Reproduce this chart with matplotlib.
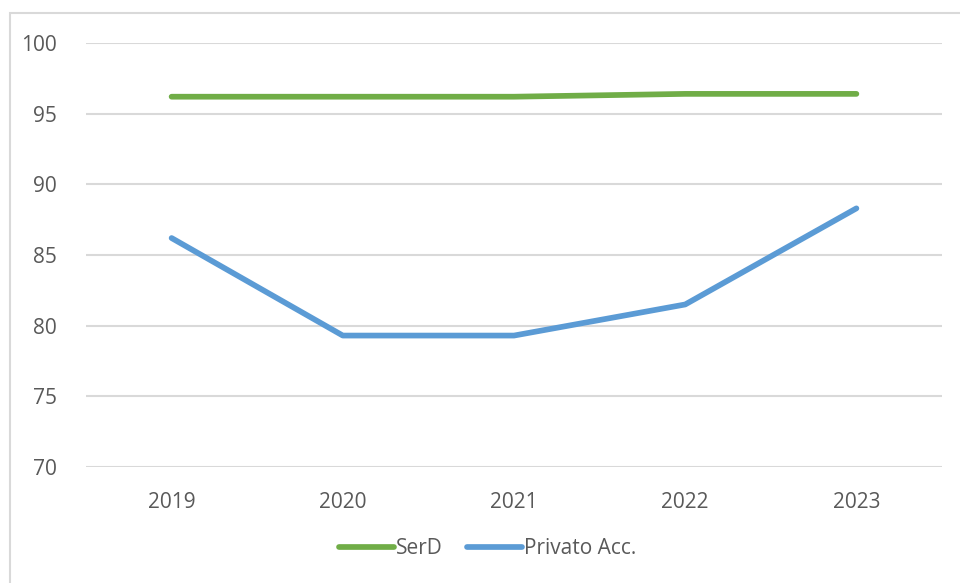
import matplotlib.pyplot as plt
from matplotlib.patches import Rectangle

years = ["2019", "2020", "2021", "2022", "2023"]
serd = [96.2, 96.2, 96.2, 96.4, 96.4]
privato = [86.2, 79.3, 79.3, 81.5, 88.3]

GREEN = "#70AD47"
BLUE = "#5B9BD5"
TEXT = "#595959"
GRID = "#D9D9D9"

plt.rcParams["font.family"] = ["Open Sans", "DejaVu Sans"]

fig = plt.figure(figsize=(9.6, 5.83), dpi=100)
ax = fig.add_axes([86 / 960, 1 - 467 / 583, 856 / 960, 424 / 583])

x = range(len(years))
ax.plot(x, serd, color=GREEN, lw=4.1, solid_capstyle="round", label="SerD")
ax.plot(x, privato, color=BLUE, lw=4.1, solid_capstyle="round", label="Privato Acc.")

ax.set_xlim(-0.5, len(years) - 0.5)
ax.set_ylim(70, 100)
ax.set_yticks(range(70, 101, 5))
ax.set_xticks(list(x))
ax.set_xticklabels(years)
ax.yaxis.grid(True, color=GRID, lw=1.5)
ax.set_axisbelow(True)
for s in ax.spines.values():
    s.set_visible(False)
ax.tick_params(length=0, labelsize=15, colors=TEXT)
ax.tick_params(axis="y", pad=21)
ax.tick_params(axis="x", pad=18)

leg = fig.legend(loc="center", bbox_to_anchor=(0.508, 1 - 549 / 583), ncol=2,
                 frameon=False, fontsize=15, handlelength=2.6, handletextpad=0.1,
                 columnspacing=1.2)
for t in leg.get_texts():
    t.set_color(TEXT)

# chart frame, cut off at the right and bottom
fig.patches.append(Rectangle((10 / 960, -0.05), 1.1, 1 - 13 / 583 + 0.05,
                             transform=fig.transFigure, fill=False,
                             edgecolor="#D9D9D9", lw=1.5))

fig.savefig("out.png", dpi=100)
